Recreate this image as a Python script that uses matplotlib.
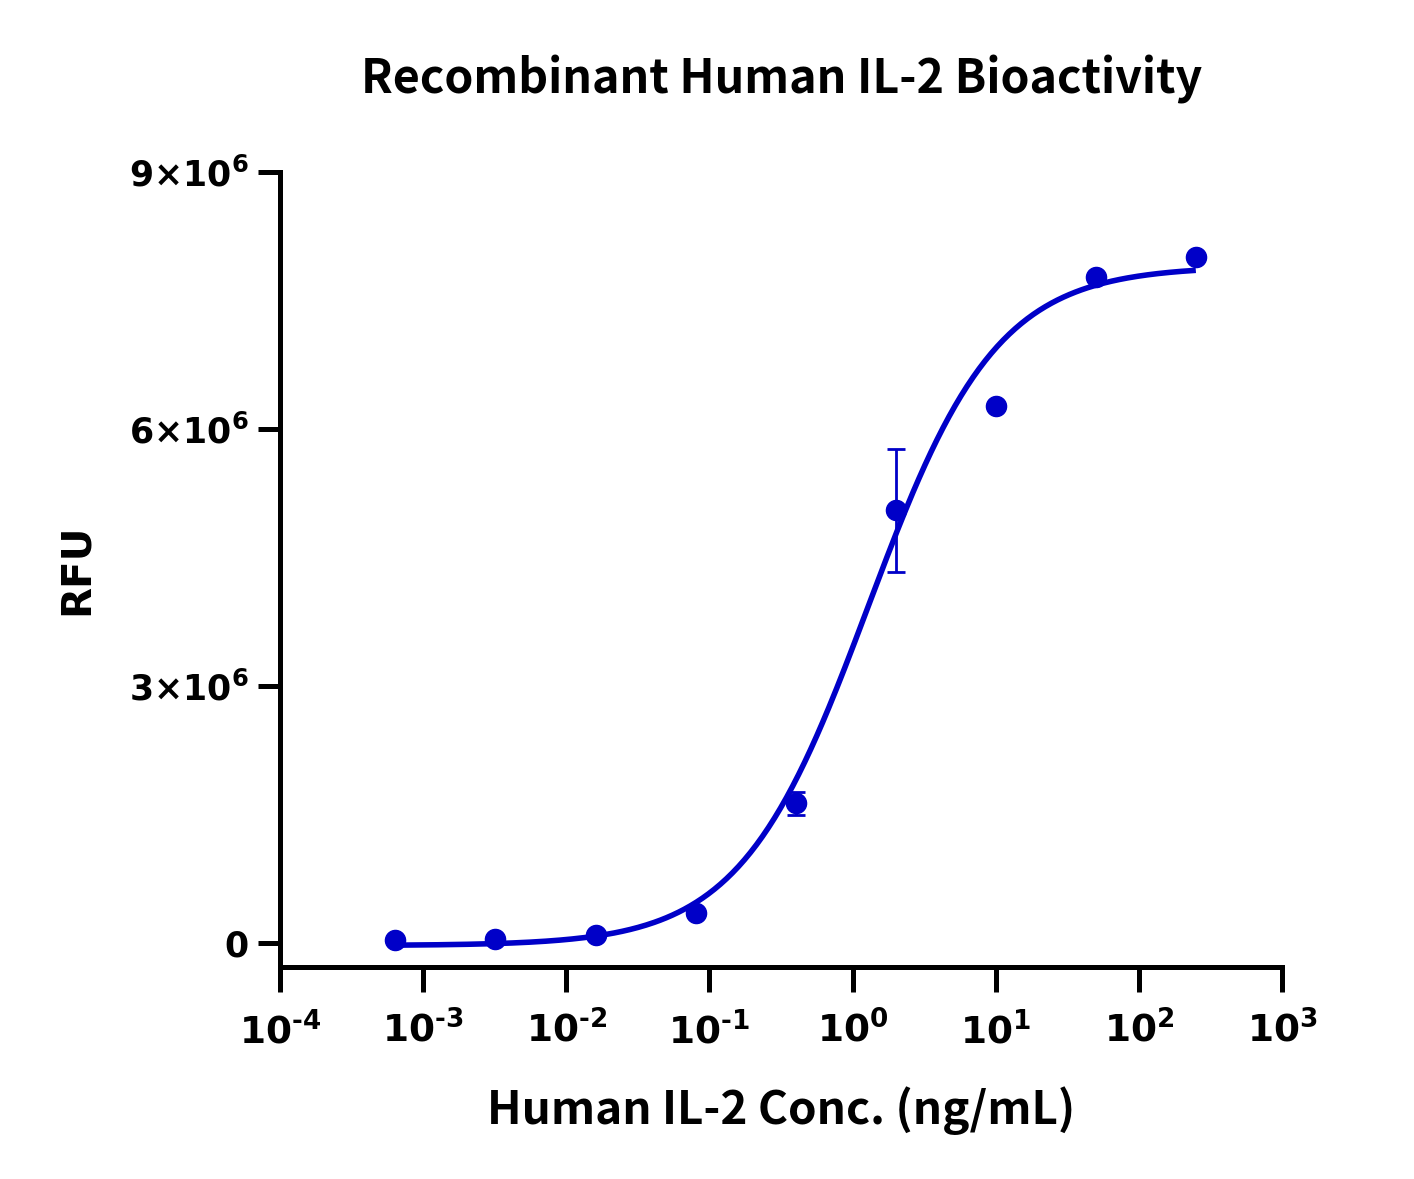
import numpy as np
import matplotlib
matplotlib.use("Agg")
import matplotlib.pyplot as plt
from matplotlib.ticker import FixedLocator, NullLocator

# ---- data ----
conc = [0.00064, 0.0032, 0.016, 0.08, 0.4, 2.0, 10.0, 50.0, 250.0]        # ng/mL
rfu = [0.035e6, 0.047e6, 0.093e6, 0.35e6, 1.63e6, 5.05e6, 6.27e6, 7.77e6, 8.01e6]
rfu_sd = [0.01e6, 0.01e6, 0.01e6, 0.02e6, 0.13e6, 0.72e6, 0.03e6, 0.03e6, 0.03e6]

# 4PL fit parameters (estimated from the drawn curve)
fit_bottom = -0.03e6
fit_top = 7.90e6
fit_ec50 = 1.29
fit_hill = 0.97

x_ticks = [1e-4, 1e-3, 1e-2, 1e-1, 1e0, 1e1, 1e2, 1e3]
x_ticklabels = [r"$\mathbf{10^{‐4}}$", r"$\mathbf{10^{‐3}}$", r"$\mathbf{10^{‐2}}$",
                r"$\mathbf{10^{‐1}}$", r"$\mathbf{10^{0}}$", r"$\mathbf{10^{1}}$",
                r"$\mathbf{10^{2}}$", r"$\mathbf{10^{3}}$"]
y_ticks = [0, 3e6, 6e6, 9e6]
y_ticklabels = [r"$\mathsf{0}$", r"$\mathsf{3{\times}10^{6}}$",
                r"$\mathsf{6{\times}10^{6}}$", r"$\mathsf{9{\times}10^{6}}$"]

title = "Recombinant Human IL-2 Bioactivity"
xlabel = "Human IL-2 Conc. (ng/mL)"
ylabel = "RFU"

COLOR = "#0000C8"
SANS = "Noto Sans CJK SC"

plt.rcParams["mathtext.fontset"] = "custom"
plt.rcParams["mathtext.rm"] = SANS + ":bold"
plt.rcParams["mathtext.bf"] = SANS + ":bold"
plt.rcParams["mathtext.it"] = SANS + ":bold"
plt.rcParams["mathtext.sf"] = "DejaVu Sans:bold"

fig = plt.figure(figsize=(14.14, 11.79), dpi=100)
ax = fig.add_axes([280 / 1414, 1 - 967 / 1179, (1282 - 280) / 1414, (967 - 172) / 1179])

# fitted curve
xc = np.logspace(np.log10(conc[0]), np.log10(conc[-1]), 400)
yc = fit_bottom + (fit_top - fit_bottom) / (1 + (fit_ec50 / xc) ** fit_hill)
ax.plot(xc, yc, color=COLOR, lw=4.0, zorder=3, solid_capstyle="butt")

ax.errorbar(conc, rfu, yerr=rfu_sd, fmt="o", color=COLOR, ms=14.5, mec=COLOR,
            ecolor=COLOR, elinewidth=2.0, capsize=6.5, capthick=2.0, zorder=4)

ax.set_xscale("log")
ax.set_xlim(1e-4, 1e3)
ax.set_ylim(-0.28e6, 9e6)

ax.xaxis.set_major_locator(FixedLocator(x_ticks))
ax.xaxis.set_minor_locator(NullLocator())
ax.set_xticklabels(x_ticklabels, fontsize=27)
ax.yaxis.set_major_locator(FixedLocator(y_ticks))
ax.set_yticklabels(y_ticklabels, fontsize=25)

for s in ["top", "right"]:
    ax.spines[s].set_visible(False)
for s in ["left", "bottom"]:
    ax.spines[s].set_linewidth(3.6)
ax.spines["left"].set_capstyle("projecting")
ax.spines["bottom"].set_capstyle("projecting")

ax.tick_params(axis="x", length=18, width=3.6, pad=14, direction="out")
ax.tick_params(axis="y", length=16, width=3.6, pad=7, direction="out")

ax.set_xlabel(xlabel, fontsize=33, fontweight="bold", family=SANS, labelpad=25)
ax.set_ylabel(ylabel, fontsize=29, fontweight="bold", family="DejaVu Sans", labelpad=23)
fig.text(782 / 1414, 1 - 80 / 1179, title, ha="center", va="center",
         fontsize=33.5, fontweight="bold", family=SANS)

fig.savefig("out.png", dpi=100, facecolor="white")
